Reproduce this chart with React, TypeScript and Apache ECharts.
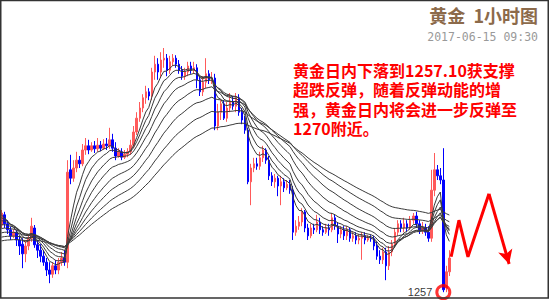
import React, { useEffect, useRef } from "react";
import * as echarts from "echarts";

// OHLC candles, hourly gold: [open, close, low, high]
const candles: number[][] = [
  [1267.5, 1269.5, 1267.0, 1270.0], [1269.2, 1267.7, 1267.0, 1269.7], [1267.7, 1266.7, 1266.0, 1268.3],
  [1266.7, 1265.7, 1265.0, 1267.2], [1265.7, 1266.3, 1265.3, 1266.8], [1266.3, 1265.0, 1264.0, 1266.7],
  [1265.0, 1264.0, 1262.5, 1265.7], [1264.3, 1262.7, 1260.3, 1265.3], [1262.7, 1264.0, 1261.3, 1265.0],
  [1264.0, 1265.3, 1263.3, 1266.0], [1265.3, 1267.3, 1264.7, 1268.7], [1267.0, 1264.2, 1263.7, 1267.5],
  [1264.2, 1263.3, 1262.0, 1265.0], [1263.3, 1262.3, 1261.3, 1264.3], [1262.3, 1261.3, 1260.7, 1263.3],
  [1261.3, 1260.0, 1259.0, 1262.0], [1260.0, 1259.3, 1257.8, 1261.3], [1259.3, 1260.7, 1258.7, 1261.3],
  [1260.7, 1260.0, 1259.3, 1261.7], [1260.0, 1261.3, 1259.3, 1262.0], [1261.3, 1262.0, 1260.7, 1263.0],
  [1262.0, 1261.3, 1260.7, 1263.3], [1261.3, 1276.3, 1260.3, 1278.3], [1276.7, 1275.3, 1274.3, 1279.2],
  [1275.3, 1277.0, 1274.7, 1278.3], [1277.0, 1278.3, 1276.3, 1279.7], [1278.3, 1277.7, 1277.0, 1279.0],
  [1277.7, 1280.0, 1277.3, 1281.0], [1280.0, 1280.7, 1279.2, 1282.0], [1280.7, 1280.0, 1279.3, 1281.7],
  [1280.0, 1280.7, 1279.7, 1281.3], [1280.7, 1280.2, 1279.5, 1281.5], [1280.2, 1280.8, 1279.7, 1282.0],
  [1280.8, 1280.3, 1279.8, 1281.5], [1280.3, 1281.0, 1280.0, 1281.8], [1281.0, 1280.7, 1280.0, 1282.0],
  [1280.7, 1281.7, 1280.2, 1283.7], [1281.7, 1280.3, 1279.7, 1282.7], [1280.3, 1279.0, 1278.3, 1281.3],
  [1279.0, 1279.7, 1278.7, 1280.3], [1279.7, 1278.8, 1278.3, 1280.3], [1278.8, 1279.3, 1278.5, 1280.0],
  [1279.3, 1279.7, 1278.8, 1280.3], [1279.7, 1280.8, 1279.2, 1281.7], [1280.8, 1283.0, 1280.3, 1284.0],
  [1283.0, 1285.3, 1282.5, 1286.3], [1285.3, 1287.0, 1284.7, 1288.0], [1287.0, 1288.7, 1286.3, 1289.3],
  [1288.7, 1289.7, 1287.7, 1290.7], [1289.7, 1289.0, 1288.3, 1290.3], [1289.0, 1293.0, 1288.3, 1293.7],
  [1293.0, 1294.3, 1291.7, 1295.7], [1294.3, 1293.0, 1291.7, 1295.3], [1293.0, 1295.0, 1292.0, 1296.3],
  [1295.0, 1295.3, 1293.7, 1297.0], [1295.3, 1293.3, 1292.3, 1296.0], [1293.3, 1294.7, 1292.7, 1295.7],
  [1294.7, 1295.3, 1294.0, 1296.0], [1295.3, 1294.3, 1293.7, 1295.8], [1294.3, 1293.3, 1292.7, 1295.0],
  [1293.3, 1292.3, 1291.7, 1294.0], [1292.3, 1293.0, 1291.7, 1293.7], [1293.0, 1294.0, 1292.3, 1294.7],
  [1294.0, 1293.3, 1292.7, 1294.7], [1293.3, 1293.7, 1292.7, 1294.7], [1293.7, 1291.7, 1290.3, 1294.3],
  [1291.7, 1289.7, 1289.0, 1292.3], [1289.7, 1291.3, 1289.0, 1292.3], [1291.3, 1292.7, 1290.3, 1295.3],
  [1292.7, 1291.7, 1291.0, 1293.3], [1291.7, 1292.0, 1291.0, 1293.0], [1292.0, 1284.0, 1283.3, 1292.7],
  [1284.0, 1286.3, 1283.3, 1287.7], [1286.3, 1287.7, 1285.0, 1288.3], [1287.7, 1285.3, 1285.0, 1288.3],
  [1285.3, 1287.0, 1284.7, 1288.0], [1287.0, 1288.0, 1286.3, 1289.5], [1288.0, 1287.3, 1286.7, 1289.0],
  [1287.3, 1288.7, 1286.3, 1289.5], [1288.7, 1286.3, 1285.7, 1289.3], [1286.3, 1285.0, 1284.3, 1287.0],
  [1285.0, 1283.3, 1282.7, 1285.7], [1283.3, 1274.7, 1274.3, 1283.7], [1274.7, 1277.0, 1270.8, 1277.7],
  [1277.0, 1277.7, 1276.3, 1278.7], [1277.7, 1277.3, 1276.7, 1278.7], [1277.3, 1278.7, 1276.7, 1279.7],
  [1278.7, 1280.0, 1278.0, 1280.7], [1280.0, 1278.3, 1277.7, 1280.3], [1278.3, 1275.7, 1275.0, 1279.0],
  [1275.7, 1274.7, 1274.0, 1276.3], [1274.7, 1275.3, 1273.7, 1276.0], [1275.3, 1274.0, 1272.3, 1275.7],
  [1274.0, 1274.7, 1270.8, 1275.7], [1274.7, 1273.7, 1273.0, 1275.3], [1273.7, 1274.3, 1273.3, 1275.0],
  [1274.3, 1273.3, 1272.7, 1275.0], [1273.3, 1266.3, 1265.0, 1274.0], [1266.3, 1267.3, 1265.7, 1268.3],
  [1267.3, 1268.0, 1266.7, 1269.0], [1268.0, 1269.7, 1267.3, 1270.3], [1269.7, 1267.0, 1266.3, 1270.0],
  [1267.0, 1265.7, 1265.0, 1267.7], [1265.7, 1267.0, 1265.3, 1267.7], [1267.0, 1266.7, 1266.0, 1267.7],
  [1266.7, 1268.0, 1266.3, 1269.2], [1268.0, 1266.7, 1266.0, 1268.7], [1266.7, 1266.3, 1265.7, 1267.3],
  [1266.3, 1267.0, 1266.0, 1267.7], [1267.0, 1266.7, 1265.7, 1267.7], [1266.7, 1268.7, 1266.3, 1269.5],
  [1268.7, 1267.3, 1266.7, 1269.3], [1267.3, 1266.0, 1264.5, 1268.0], [1266.0, 1266.7, 1265.3, 1267.3],
  [1266.7, 1265.7, 1265.0, 1267.3], [1265.7, 1266.7, 1265.0, 1267.3], [1266.7, 1265.3, 1264.7, 1267.0],
  [1265.3, 1265.7, 1264.7, 1266.3], [1265.7, 1265.0, 1264.3, 1266.3], [1265.0, 1265.3, 1264.3, 1266.0],
  [1265.3, 1265.7, 1261.7, 1266.3], [1265.7, 1265.0, 1264.3, 1266.3], [1265.0, 1265.3, 1264.7, 1265.8],
  [1265.3, 1265.2, 1264.7, 1265.8], [1265.2, 1264.0, 1263.3, 1265.7], [1264.0, 1262.3, 1261.7, 1264.7],
  [1262.3, 1261.7, 1261.0, 1263.3], [1261.7, 1263.0, 1261.0, 1263.7], [1263.0, 1260.7, 1258.3, 1263.7],
  [1260.7, 1263.0, 1260.0, 1264.0], [1263.0, 1264.3, 1262.3, 1265.0], [1264.3, 1266.3, 1263.7, 1267.0],
  [1266.3, 1267.7, 1265.7, 1268.3], [1267.7, 1267.0, 1266.3, 1268.3], [1267.0, 1267.7, 1266.3, 1268.7],
  [1267.7, 1267.0, 1266.3, 1268.3], [1267.0, 1268.3, 1266.7, 1269.0], [1268.3, 1269.0, 1267.7, 1269.5],
  [1269.0, 1267.7, 1267.0, 1269.7], [1267.7, 1266.7, 1266.0, 1268.3], [1266.7, 1267.0, 1266.0, 1268.0],
  [1267.0, 1266.3, 1265.7, 1267.7], [1266.3, 1265.3, 1264.7, 1267.3], [1265.3, 1273.3, 1264.7, 1276.7],
  [1273.3, 1276.7, 1272.3, 1279.5], [1276.7, 1275.7, 1275.0, 1277.5], [1275.7, 1275.0, 1274.3, 1277.0],
  [1275.0, 1256.7, 1256.3, 1280.3], [1257.0, 1259.7, 1256.3, 1260.7], [1259.7, 1262.0, 1259.0, 1263.3],
];

// total category slots across the frame (candles + room for the projection)
const slotCount = 183;
const categories = Array.from({ length: slotCount }, (_, i) => String(i + 1));

// moving averages (EMA periods) and their values at the left edge
const maPeriods = [6, 9, 13, 18, 25, 34, 46, 62];
const maSeeds = [1269.0, 1268.5, 1268.0, 1267.3, 1266.7, 1266.0, 1265.3, 1264.7];

// projected zig-zag path (bar index, price)
const projX = [149.6, 152.2, 155.2, 162.2, 168.9];
const projY = [1262.2, 1268.3, 1262.2, 1272.7, 1261.0];

const lowLabel = "1257";
const titleText = "黄金  1小时图";
const dateText = "2017-06-15 09:30";
const noteLines = [
  "黄金日内下落到1257.10获支撑",
  "超跌反弹，随着反弹动能的增",
  "强，黄金日内将会进一步反弹至",
  "1270附近。",
];

function ema(closes: number[], period: number, seed: number) {
  const k = 2 / (period + 1);
  let prev = seed;
  return closes.map((c) => {
    prev = prev + k * (c - prev);
    return +prev.toFixed(2);
  });
}

export default function App() {
  const ref = useRef<HTMLDivElement>(null);
  useEffect(() => {
    if (!ref.current) return;
    const chart = echarts.init(ref.current, undefined, { renderer: "svg" });
    const closes = candles.map((c) => c[1]);
    let lowIdx = 0;
    candles.forEach((c, i) => {
      if (c[2] < candles[lowIdx][2]) lowIdx = i;
    });
    const maSeries = maPeriods.map((p, j) => ({
      type: "line",
      data: ema(closes, p, maSeeds[j]),
      showSymbol: false,
      symbol: "none",
      silent: true,
      lineStyle: { color: "#3a3a3a", width: 1 },
      z: 3,
    }));
    const zig = projX.slice(0, 4).map((x, i) => [x, projY[i]]);
    const option: any = {
      animation: false,
      backgroundColor: "#ffffff",
      grid: { left: 0, right: 0, top: 0, bottom: 0 },
      xAxis: [
        { type: "category", data: categories, boundaryGap: true, show: false },
        { type: "value", min: -0.5, max: slotCount - 0.5, show: false },
      ],
      yAxis: { type: "value", min: 1255, max: 1305, show: false, splitLine: { show: false } },
      series: [
        {
          type: "candlestick",
          data: candles,
          barWidth: 2,
          z: 2,
          itemStyle: {
            color: "#ff5a5a",
            color0: "#0000ff",
            borderColor: "#ff5a5a",
            borderColor0: "#0000ff",
            borderWidth: 1,
          },
        },
        ...maSeries,
        {
          type: "line",
          xAxisIndex: 1,
          data: zig,
          symbol: "none",
          lineStyle: { color: "#ff0000", width: 3 },
          z: 5,
          markLine: {
            silent: true,
            symbol: ["none", "arrow"],
            symbolSize: [11, 14],
            label: { show: false },
            lineStyle: { color: "#ff0000", width: 3, type: "solid" },
            data: [[{ coord: [projX[3], projY[3]] }, { coord: [projX[4], projY[4]] }]],
          },
        },
        {
          type: "scatter",
          data: [[lowIdx, candles[lowIdx][2]]],
          symbol: "circle",
          symbolSize: 13,
          z: 6,
          itemStyle: { color: "rgba(0,0,0,0)", borderColor: "#ff0000", borderWidth: 3 },
          label: {
            show: true,
            position: "left",
            distance: 3,
            formatter: lowLabel,
            color: "#000000",
            fontSize: 11,
            fontFamily: "Liberation Sans",
          },
        },
      ],
      graphic: [
        {
          type: "rect",
          shape: { x: 0.75, y: 0.5, width: 547.5, height: 297.5 },
          style: { fill: "none", stroke: "#333333", lineWidth: 1.5 },
          silent: true,
          z: 10,
        },
        {
          type: "text",
          right: 12,
          top: 6,
          style: {
            text: titleText,
            fill: "#8c6a4a",
            font: "bold 18px 'Noto Sans CJK SC'",
          },
          z: 10,
        },
        {
          type: "text",
          right: 12,
          top: 31,
          style: {
            text: dateText,
            fill: "#999999",
            font: "11.5px 'DejaVu Sans Mono'",
          },
          z: 10,
        },
        ...noteLines.map((t, i) => ({
          type: "text",
          x: 293,
          y: 70 + i * 19.4,
          style: {
            text: t,
            fill: "#ff0000",
            font: "bold 16px 'Noto Sans CJK SC'",
            verticalAlign: "middle",
          },
          z: 10,
        })),
      ],
    };
    chart.setOption(option);
    return () => chart.dispose();
  }, []);
  return (
    <div
      ref={ref}
      style={{ position: "fixed", left: 0, top: 0, width: 550, height: 300, background: "#fff" }}
    />
  );
}
